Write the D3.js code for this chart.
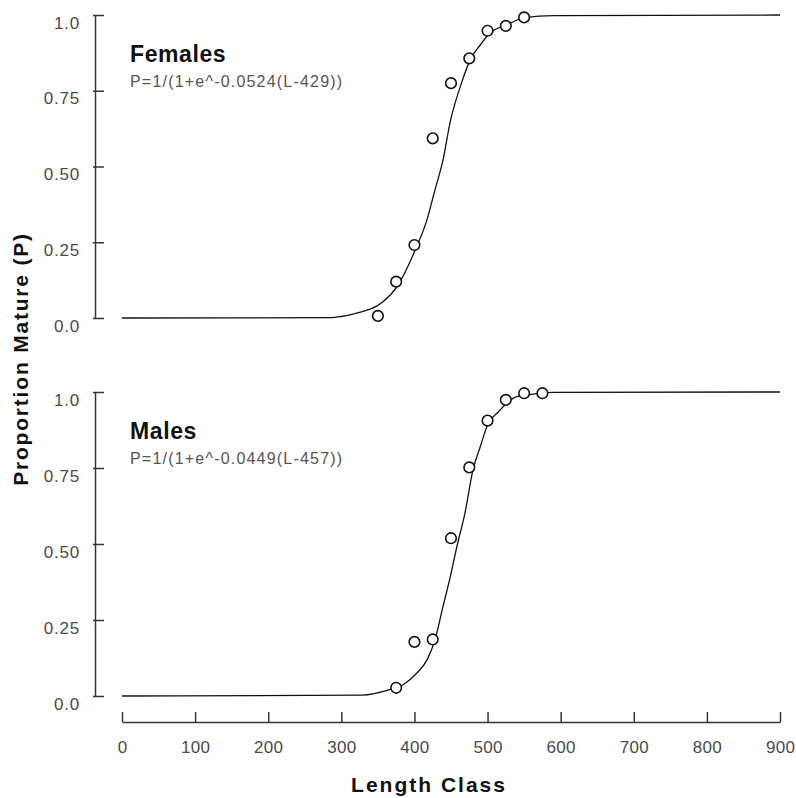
<!DOCTYPE html>
<html>
<head>
<meta charset="utf-8">
<script src="https://cdn.jsdelivr.net/npm/d3@7"></script>
<style>
  body { margin: 0; background: #fff; }
  svg { font-family: "Liberation Sans", Arial, sans-serif; }
</style>
</head>
<body>
<div id="chart"></div>
<script>
// observed proportions mature by length class
const femaleLength = [350, 375, 400, 425, 450, 475, 500, 525, 550];
const femaleP = [0.007, 0.12, 0.241, 0.593, 0.775, 0.857, 0.948, 0.964, 0.992];
const maleLength = [375, 400, 425, 450, 475, 500, 525, 550, 575];
const maleP = [0.027, 0.178, 0.186, 0.519, 0.752, 0.906, 0.974, 0.996, 0.996];

// fitted curves
const femaleCurveL = [0, 286, 300, 316, 357, 376, 401, 417, 428, 439, 449, 465, 476, 490, 503, 526, 551, 590, 900];
const femaleCurveP = [0, 0.001, 0.005, 0.013, 0.054, 0.103, 0.224, 0.323, 0.422, 0.521, 0.648, 0.78, 0.851, 0.901, 0.94, 0.967, 0.991, 0.998, 1];
const maleCurveL = [0, 328, 367, 385, 403, 417, 428, 439, 449, 458, 469, 480, 490, 501, 515, 526, 540, 563, 590, 900];
const maleCurveP = [0, 0.003, 0.022, 0.038, 0.075, 0.118, 0.184, 0.294, 0.392, 0.491, 0.601, 0.743, 0.82, 0.897, 0.935, 0.963, 0.985, 0.993, 0.999, 1];

const panelTitles = ["Females", "Males"];
const equations = ["P=1/(1+e^-0.0524(L-429))", "P=1/(1+e^-0.0449(L-457))"];
const yTicks = [0, 0.25, 0.5, 0.75, 1];
const yTickLabels = ["0.0", "0.25", "0.50", "0.75", "1.0"];
const xTicks = [0, 100, 200, 300, 400, 500, 600, 700, 800, 900];

const width = 796;
const height = 798;
const axisColor = "#363636";
const labelColor = "#4a4a4a";

const svg = d3.select("#chart")
  .append("svg")
  .attr("width", width)
  .attr("height", height);

const x = d3.scaleLinear().domain([0, 900]).range([122, 780]);

const panels = [
  { title: panelTitles[0], eq: equations[0], y: d3.scaleLinear().domain([0, 1]).range([318, 15]),
    pts: femaleLength.map((l, i) => ({ l: l, p: femaleP[i] })),
    curve: femaleCurveL.map((l, i) => ({ l: l, p: femaleCurveP[i] })) },
  { title: panelTitles[1], eq: equations[1], y: d3.scaleLinear().domain([0, 1]).range([696, 392]),
    pts: maleLength.map((l, i) => ({ l: l, p: maleP[i] })),
    curve: maleCurveL.map((l, i) => ({ l: l, p: maleCurveP[i] })) }
];

panels.forEach((pn) => {
  const y = pn.y;

  //y axis, ticks pointing inward, labels hanging under the tick
  const yAxis = svg.append("g")
    .attr("transform", "translate(95,0)")
    .call(d3.axisLeft(y)
      .tickValues(yTicks)
      .tickFormat((d, i) => yTickLabels[i])
      .tickSizeInner(-9)
      .tickSizeOuter(0)
      .tickPadding(15));
  yAxis.select(".domain").attr("stroke", axisColor).attr("stroke-width", 1.5);
  yAxis.selectAll(".tick line").attr("stroke", axisColor).attr("stroke-width", 1.5).attr("x1", -2);
  yAxis.selectAll(".tick text")
    .attr("dy", 13)
    .attr("fill", labelColor)
    .style("font-size", "17px")
    .style("letter-spacing", "0.8px");

  const line = d3.line()
    .x((d) => x(d.l))
    .y((d) => y(d.p))
    .curve(d3.curveMonotoneX);

  svg.append("path")
    .datum(pn.curve)
    .attr("d", line)
    .attr("fill", "none")
    .attr("stroke", "#111")
    .attr("stroke-width", 1.3);

  svg.append("g")
    .selectAll("circle")
    .data(pn.pts)
    .enter()
    .append("circle")
    .attr("cx", (d) => x(d.l))
    .attr("cy", (d) => y(d.p))
    .attr("r", 5.3)
    .attr("fill", "#fff")
    .attr("stroke", "#111")
    .attr("stroke-width", 1.6);

  svg.append("text")
    .attr("x", 130)
    .attr("y", y(1) + 47)
    .text(pn.title)
    .attr("font-weight", "bold")
    .style("font-size", "23px")
    .style("letter-spacing", "0.6px")
    .attr("fill", "#111");

  svg.append("text")
    .attr("x", 130)
    .attr("y", y(1) + 72)
    .text(pn.eq)
    .attr("fill", "#555")
    .style("font-size", "16px")
    .style("letter-spacing", "1.2px");
});

//x axis below the males panel
const xAxis = svg.append("g")
  .attr("transform", "translate(0,722)")
  .call(d3.axisBottom(x)
    .tickValues(xTicks)
    .tickSizeInner(-10)
    .tickSizeOuter(0)
    .tickPadding(19));
xAxis.select(".domain").attr("stroke", axisColor).attr("stroke-width", 1.5);
xAxis.selectAll(".tick line").attr("stroke", axisColor).attr("stroke-width", 1.5);
xAxis.selectAll(".tick text")
  .attr("fill", labelColor)
  .style("font-size", "17px")
  .style("letter-spacing", "0.3px");

svg.append("text")
  .attr("x", 429)
  .attr("y", 792)
  .attr("text-anchor", "middle")
  .attr("font-weight", "bold")
  .style("font-size", "21px")
  .style("letter-spacing", "2px")
  .attr("fill", "#111")
  .text("Length Class");

svg.append("text")
  .attr("transform", "translate(28,359) rotate(-90)")
  .attr("text-anchor", "middle")
  .attr("font-weight", "bold")
  .style("font-size", "21px")
  .style("letter-spacing", "1.8px")
  .attr("fill", "#111")
  .text("Proportion Mature (P)");
</script>
</body>
</html>
